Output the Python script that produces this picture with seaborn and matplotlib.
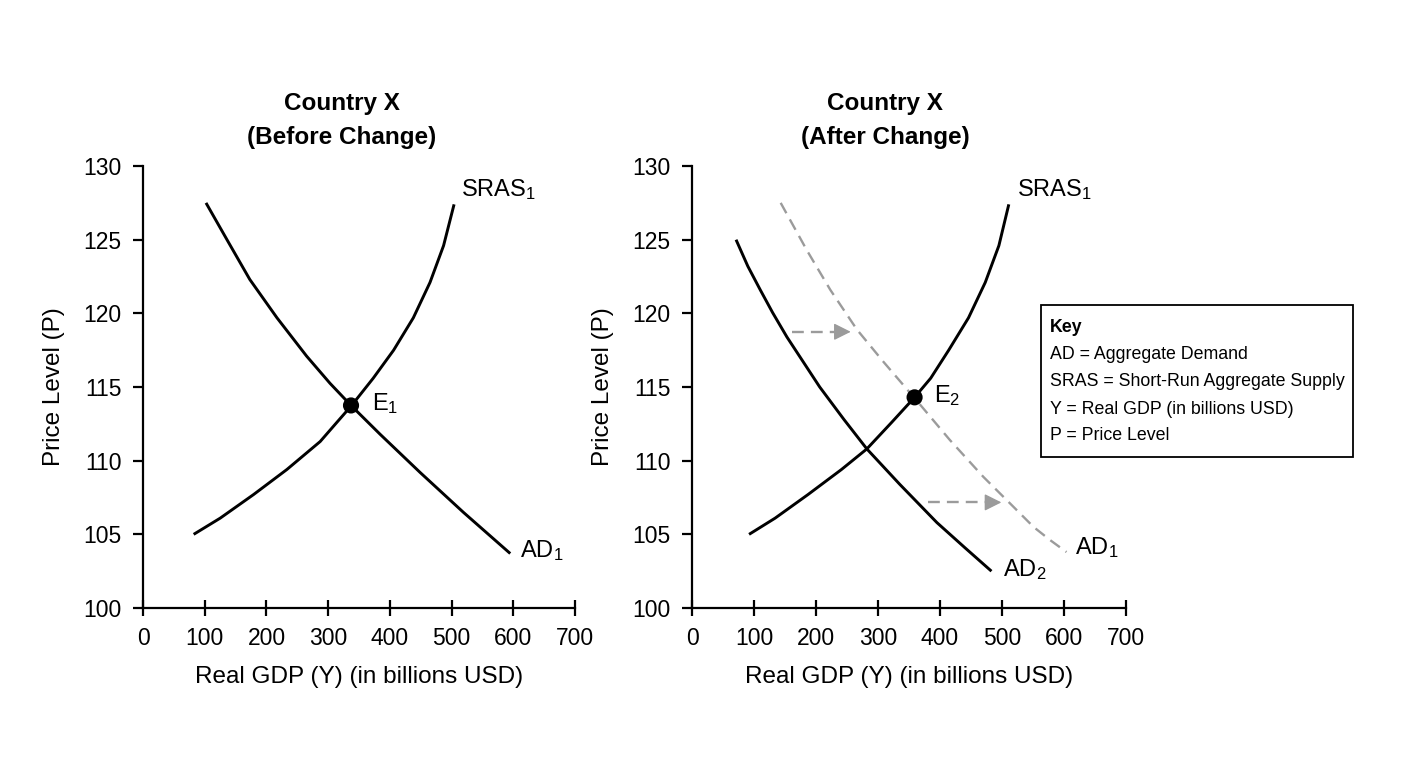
import matplotlib
matplotlib.use("Agg")
import matplotlib.pyplot as plt
import matplotlib.patches as mpatches
import seaborn as sns

# --- values ---
x_ticks = [0, 100, 200, 300, 400, 500, 600, 700]
y_ticks = [100, 105, 110, 115, 120, 125, 130]

# before change
sras_before_x = [82, 125, 179, 233, 287, 314, 338, 373, 406, 438, 465, 487, 504]
sras_before_y = [105.0, 106.1, 107.7, 109.4, 111.3, 112.6, 113.75, 115.6, 117.5,
                 119.7, 122.1, 124.6, 127.4]
ad1_before_x = [102, 136, 173, 217, 265, 303, 337, 384, 449, 519, 595]
ad1_before_y = [127.5, 125.0, 122.3, 119.7, 117.1, 115.25, 113.75, 111.8, 109.2,
                106.5, 103.7]
e1 = (337, 113.75)

# after change
sras_after_x = [92, 134, 187, 241, 282, 322, 359, 385, 414, 446, 473, 495, 511]
sras_after_y = [105.0, 106.1, 107.7, 109.4, 110.8, 112.6, 114.3, 115.6, 117.5,
                119.7, 122.1, 124.6, 127.4]
ad2_after_x = [71, 90, 110, 130, 153, 206, 245, 282, 335, 395, 440, 483]
ad2_after_y = [125.0, 123.2, 121.6, 120.05, 118.4, 115.0, 112.8, 110.8, 108.4,
               105.8, 104.1, 102.5]
ad1_after_x = [143, 185, 223, 266, 309, 362, 416, 470, 513, 551, 578, 604]
ad1_after_y = [127.5, 124.3, 121.6, 118.9, 116.7, 114.1, 111.4, 108.9, 107.1,
               105.5, 104.6, 103.8]
e2 = (359, 114.3)

# shift arrows (start x, end x, y)
arrow_top = (162, 256, 118.75)
arrow_bottom = (381, 499, 107.17)

key_lines = ["AD = Aggregate Demand",
             "SRAS = Short-Run Aggregate Supply",
             "Y = Real GDP (in billions USD)",
             "P = Price Level"]

sns.set_style("ticks")
plt.rcParams['font.family'] = ['Liberation Sans', 'DejaVu Sans']
plt.rcParams['mathtext.fontset'] = 'custom'
plt.rcParams['mathtext.rm'] = 'Liberation Sans'
plt.rcParams['mathtext.it'] = 'Liberation Sans'
for k in ['text.color', 'axes.labelcolor', 'xtick.color', 'ytick.color']:
    plt.rcParams[k] = 'black'

GRAY = '#9b9b9b'
LW = 2.1
fig = plt.figure(figsize=(14.08, 7.68), dpi=100)
ax1 = fig.add_axes([0.1016, 0.2083, 0.3068, 0.5755])
ax2 = fig.add_axes([0.4915, 0.2083, 0.3082, 0.5755])


def style_axes(ax, title_x, subtitle):
    ax.set_xlim(0, 700)
    ax.set_ylim(100, 130)
    ax.set_xticks(x_ticks)
    ax.set_yticks(y_ticks)
    sns.despine(ax=ax)
    for s in ['left', 'bottom']:
        ax.spines[s].set_linewidth(1.6)
        ax.spines[s].set_color('black')
    ax.tick_params(axis='x', direction='inout', length=11, width=1.6,
                   labelsize=16.5, pad=8)
    ax.tick_params(axis='y', direction='out', length=7.5, width=1.6,
                   labelsize=16.5, pad=8)
    ax.set_xlabel("Real GDP (Y) (in billions USD)", fontsize=17.5, labelpad=12)
    ax.set_ylabel("Price Level (P)", fontsize=17.5, labelpad=13)
    ax.text(title_x, 1.1425, "Country X", transform=ax.transAxes,
            ha='center', va='center', fontsize=17.5, fontweight='bold')
    ax.text(title_x, 1.0656, subtitle, transform=ax.transAxes,
            ha='center', va='center', fontsize=17.5, fontweight='bold')


def curve(ax, xs, ys, **kw):
    sns.lineplot(x=xs, y=ys, ax=ax, sort=False, estimator=None,
                 solid_capstyle='butt', solid_joinstyle='round', **kw)


# left panel
curve(ax1, sras_before_x, sras_before_y, color='black', linewidth=LW)
curve(ax1, ad1_before_x, ad1_before_y, color='black', linewidth=LW)
sns.scatterplot(x=[e1[0]], y=[e1[1]], ax=ax1, color='black', s=135,
                edgecolor='none', zorder=5)
ax1.text(515, 128.4, r'SRAS$_{\mathrm{1}}$', fontsize=17, va='center')
ax1.text(611, 103.9, r'AD$_{\mathrm{1}}$', fontsize=17, va='center')
ax1.text(371, 113.9, r'E$_{\mathrm{1}}$', fontsize=17, va='center')
style_axes(ax1, 0.46, "(Before Change)")

# right panel
sns.lineplot(x=ad1_after_x, y=ad1_after_y, ax=ax2, color=GRAY,
             linewidth=1.7, linestyle=(0, (5, 3)), sort=False, estimator=None)
curve(ax2, ad2_after_x, ad2_after_y, color='black', linewidth=LW)
curve(ax2, sras_after_x, sras_after_y, color='black', linewidth=LW)
for (xs, xe, ya) in [arrow_top, arrow_bottom]:
    ax2.plot([xs, xe - 20], [ya, ya], color=GRAY, linewidth=1.7,
             linestyle=(0, (5, 3)))
    ax2.annotate("", xy=(xe, ya), xytext=(xe - 22, ya),
                 arrowprops=dict(arrowstyle='-|>', color=GRAY, lw=1.0,
                                 mutation_scale=26, shrinkA=0, shrinkB=0))
sns.scatterplot(x=[e2[0]], y=[e2[1]], ax=ax2, color='black', s=135,
                edgecolor='none', zorder=5)
ax2.text(524, 128.4, r'SRAS$_{\mathrm{1}}$', fontsize=17, va='center')
ax2.text(390, 114.4, r'E$_{\mathrm{2}}$', fontsize=17, va='center')
ax2.text(502, 102.6, r'AD$_{\mathrm{2}}$', fontsize=17, va='center')
ax2.text(618, 104.1, r'AD$_{\mathrm{1}}$', fontsize=17, va='center')
style_axes(ax2, 0.445, "(After Change)")

# key box
W, H = 1408, 768
box = mpatches.Rectangle((1041 / W, 1 - 457 / H), 312 / W, 152 / H,
                         transform=fig.transFigure, fill=False,
                         edgecolor='black', linewidth=1.3)
fig.patches.append(box)
fig.text(1050 / W, 1 - 327 / H, "Key", fontsize=12.8, fontweight='bold',
         va='center', ha='left')
for i, line in enumerate(key_lines):
    fig.text(1050 / W, 1 - (355 + 27 * i) / H, line, fontsize=12.8,
             va='center', ha='left')

fig.savefig("out.png", dpi=100)
